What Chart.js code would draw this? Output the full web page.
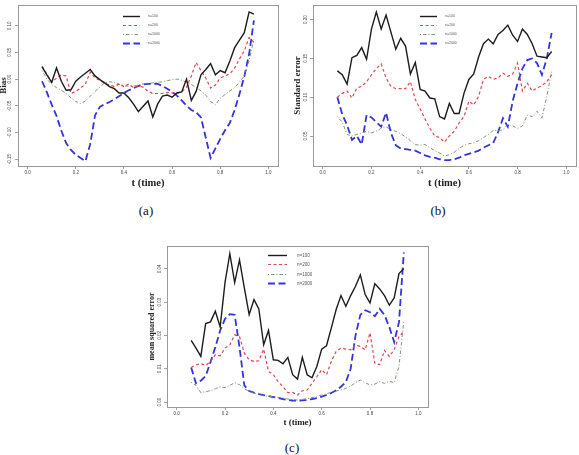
<!DOCTYPE html>
<html>
<head>
<meta charset="utf-8">
<script src="https://cdn.jsdelivr.net/npm/chart.js@4.4.0/dist/chart.umd.min.js"></script>
<style>
  body { margin: 0; background: #fff; width: 579px; height: 455px; position: relative; overflow: hidden; }
  canvas { position: absolute; }
  .cap { position: absolute; font-family: "Liberation Serif", serif; font-size: 13px; color: #111; transform: translateX(-50%); }
</style>
</head>
<body>
<canvas id="biasChart" width="290" height="200" style="left:0;top:0"></canvas>
<canvas id="seChart" width="289" height="200" style="left:290px;top:0"></canvas>
<canvas id="mseChart" width="300" height="215" style="left:140px;top:220px"></canvas>
<div class="cap" style="left:146px;top:203px">(a)</div>
<div class="cap" style="left:438px;top:203px">(b)</div>
<div class="cap" style="left:292px;top:440px">(c)</div>
<script>
// time grid
const t = [0.06, 0.08, 0.10, 0.12, 0.14, 0.16, 0.18, 0.20, 0.22, 0.24, 0.26, 0.28, 0.30, 0.32, 0.34,
    0.36, 0.38, 0.40, 0.42, 0.44, 0.46, 0.48, 0.50, 0.52, 0.54, 0.56, 0.58, 0.60, 0.62, 0.64,
    0.66, 0.68, 0.70, 0.72, 0.74, 0.76, 0.78, 0.80, 0.82, 0.84, 0.86, 0.88, 0.90, 0.92, 0.94];
const seriesNames = ['n=100', 'n=200', 'n=1000', 'n=2000'];
const xTicks = [0.0, 0.2, 0.4, 0.6, 0.8, 1.0];

// (a) Bias
const biasN100 = [0.023, 0.008, -0.006, 0.021, -0.004, -0.021, -0.020, -0.004, 0.004, 0.011,
    0.018, 0.006, -0.001, -0.007, -0.014, -0.018, -0.026, -0.026, -0.035, -0.047,
    -0.061, -0.051, -0.041, -0.071, -0.047, -0.032, -0.030, -0.034, -0.026, -0.024,
    0.000, -0.040, -0.023, 0.008, 0.018, 0.029, 0.008, 0.016, 0.012, 0.034,
    0.059, 0.073, 0.087, 0.126, 0.122];
const biasN200 = [0.024, 0.009, -0.006, 0.002, 0.008, 0.006, -0.027, -0.023, -0.017, -0.009,
    0.013, 0.002, -0.002, -0.008, -0.011, -0.014, -0.009, -0.014, -0.009, -0.016,
    -0.013, -0.015, -0.023, -0.027, -0.027, -0.027, -0.025, -0.026, -0.026, -0.024,
    -0.015, 0.006, 0.031, 0.016, 0.002, -0.017, -0.011, 0.002, 0.006, 0.010,
    0.021, 0.038, 0.053, 0.078, 0.069];
const biasN1000 = [0.016, 0.000, -0.010, -0.016, -0.021, -0.027, -0.035, -0.042, -0.046, -0.041,
    -0.032, -0.023, -0.015, -0.007, -0.005, -0.006, -0.010, -0.013, -0.013, -0.013,
    -0.011, -0.009, -0.008, -0.007, -0.006, -0.005, -0.003, -0.001, 0.000, -0.002,
    -0.006, -0.010, -0.016, -0.022, -0.030, -0.042, -0.048, -0.036, -0.029, -0.022,
    -0.016, -0.006, 0.006, 0.035, 0.075];
const biasN2000 = [-0.004, -0.025, -0.048, -0.069, -0.097, -0.120, -0.133, -0.142, -0.148, -0.154,
    -0.122, -0.068, -0.052, -0.047, -0.043, -0.038, -0.032, -0.026, -0.021, -0.017,
    -0.013, -0.010, -0.009, -0.009, -0.009, -0.013, -0.018, -0.024, -0.031, -0.040,
    -0.050, -0.058, -0.062, -0.072, -0.110, -0.148, -0.130, -0.112, -0.096, -0.082,
    -0.058, -0.028, 0.005, 0.047, 0.110];
const biasTicks = [-0.15, -0.10, -0.05, 0.00, 0.05, 0.10];

// (b) Standard error
const seN100 = [0.134, 0.129, 0.117, 0.151, 0.154, 0.164, 0.149, 0.188, 0.210, 0.188,
    0.206, 0.184, 0.162, 0.176, 0.166, 0.130, 0.145, 0.110, 0.108, 0.099,
    0.098, 0.075, 0.072, 0.092, 0.079, 0.079, 0.105, 0.123, 0.130, 0.152,
    0.169, 0.175, 0.169, 0.181, 0.186, 0.193, 0.180, 0.172, 0.188, 0.181,
    0.169, 0.153, 0.152, 0.151, 0.159];
const seN200 = [0.100, 0.105, 0.108, 0.099, 0.112, 0.114, 0.120, 0.129, 0.137, 0.143,
    0.125, 0.114, 0.111, 0.111, 0.111, 0.120, 0.097, 0.085, 0.072, 0.060,
    0.050, 0.048, 0.042, 0.050, 0.056, 0.067, 0.075, 0.095, 0.090, 0.101,
    0.123, 0.127, 0.123, 0.125, 0.131, 0.127, 0.130, 0.144, 0.108, 0.118,
    0.108, 0.112, 0.115, 0.120, 0.129];
const seN1000 = [0.075, 0.068, 0.052, 0.050, 0.052, 0.054, 0.056, 0.054, 0.056, 0.060,
    0.062, 0.058, 0.056, 0.053, 0.049, 0.044, 0.039, 0.038, 0.039, 0.035,
    0.031, 0.028, 0.024, 0.026, 0.029, 0.034, 0.038, 0.040, 0.041, 0.044,
    0.048, 0.052, 0.057, 0.057, 0.058, 0.065, 0.063, 0.060, 0.063, 0.077,
    0.075, 0.082, 0.073, 0.101, 0.133];
const seN2000 = [0.100, 0.078, 0.064, 0.045, 0.050, 0.039, 0.077, 0.074, 0.068, 0.062,
    0.080, 0.054, 0.038, 0.034, 0.033, 0.032, 0.031, 0.028, 0.025, 0.023,
    0.022, 0.020, 0.019, 0.019, 0.020, 0.022, 0.025, 0.027, 0.029, 0.031,
    0.035, 0.038, 0.041, 0.055, 0.073, 0.062, 0.095, 0.118, 0.137, 0.148,
    0.150, 0.144, 0.129, 0.150, 0.183];
const seTicks = [0.05, 0.10, 0.15, 0.20];

// (c) Mean squared error
const mseN100 = [0.0185, 0.0162, 0.0137, 0.0236, 0.0241, 0.0273, 0.0226, 0.0359, 0.0446, 0.0359,
    0.0427, 0.0343, 0.0263, 0.0308, 0.0280, 0.0172, 0.0215, 0.0127, 0.0125, 0.0115,
    0.0134, 0.0082, 0.0069, 0.0134, 0.0082, 0.0073, 0.0107, 0.0159, 0.0169, 0.0223,
    0.0278, 0.0320, 0.0288, 0.0320, 0.0348, 0.0382, 0.0323, 0.0298, 0.0356, 0.0340,
    0.0320, 0.0291, 0.0313, 0.0386, 0.0401];
const mseN200 = [0.0104, 0.0112, 0.0115, 0.0110, 0.0122, 0.0142, 0.0139, 0.0162, 0.0172, 0.0202,
    0.0197, 0.0147, 0.0127, 0.0122, 0.0124, 0.0159, 0.0092, 0.0082, 0.0061, 0.0046,
    0.0028, 0.0029, 0.0021, 0.0034, 0.0036, 0.0056, 0.0076, 0.0097, 0.0082, 0.0122,
    0.0152, 0.0162, 0.0159, 0.0157, 0.0172, 0.0167, 0.0157, 0.0208, 0.0117, 0.0112,
    0.0155, 0.0137, 0.0157, 0.0197, 0.0212];
const mseN1000 = [0.0059, 0.0050, 0.0028, 0.0031, 0.0034, 0.0040, 0.0046, 0.0043, 0.0050, 0.0058,
    0.0052, 0.0040, 0.0032, 0.0027, 0.0023, 0.0019, 0.0017, 0.0016, 0.0014, 0.0012,
    0.0009, 0.0007, 0.0006, 0.0008, 0.0010, 0.0013, 0.0017, 0.0021, 0.0025, 0.0029,
    0.0033, 0.0036, 0.0041, 0.0048, 0.0058, 0.0066, 0.0058, 0.0051, 0.0054, 0.0061,
    0.0056, 0.0062, 0.0058, 0.0107, 0.0245];
const mseN2000 = [0.0104, 0.0056, 0.0064, 0.0078, 0.0120, 0.0165, 0.0215, 0.0250, 0.0264, 0.0262,
    0.0165, 0.0050, 0.0033, 0.0028, 0.0024, 0.0021, 0.0018, 0.0015, 0.0012, 0.0009,
    0.0006, 0.0004, 0.0004, 0.0005, 0.0006, 0.0009, 0.0012, 0.0016, 0.0021, 0.0027,
    0.0035, 0.0046, 0.0060, 0.0100, 0.0200, 0.0262, 0.0276, 0.0270, 0.0258, 0.0280,
    0.0262, 0.0225, 0.0180, 0.0240, 0.0450];
const mseTicks = [0.00, 0.01, 0.02, 0.03, 0.04];

// line styles for n=100, 200, 1000, 2000
const lineStyles = [
    { color: '#1c1c1c', width: 1.4, dash: [] },
    { color: '#e0474f', width: 1.2, dash: [3, 2.5] },
    { color: '#6f8a62', width: 0.9, dash: [1, 2, 3.5, 2] },
    { color: '#3434dc', width: 1.8, dash: [7, 3.5] }
];

const serif = '"Liberation Serif", "Times New Roman", serif';
const sans = '"Liberation Sans", Arial, sans-serif';

// frame, rotated y tick labels and the inner legend
const panelDecor = {
    id: 'panelDecor',
    afterDraw(chart, args, o) {
        const { ctx, chartArea: a } = chart;
        const y = chart.scales.y;
        ctx.save();
        ctx.strokeStyle = '#999';
        ctx.lineWidth = 1;
        ctx.strokeRect(Math.round(a.left) + 0.5, Math.round(a.top) + 0.5,
            Math.round(a.right - a.left), Math.round(a.bottom - a.top));

        ctx.fillStyle = '#444';
        ctx.font = '4.5px ' + sans;
        ctx.textAlign = 'center';
        ctx.textBaseline = 'middle';
        y.ticks.forEach(tk => {
            ctx.save();
            ctx.translate(a.left - o.labelGap, y.getPixelForValue(tk.value));
            ctx.rotate(-Math.PI / 2);
            ctx.fillText(tk.value.toFixed(2), 0, 0);
            ctx.restore();
        });

        ctx.textAlign = 'left';
        ctx.font = o.fontSize + 'px ' + sans;
        chart.data.datasets.forEach((ds, i) => {
            const ly = Math.round(a.top + o.y0 + i * o.dy) + 0.5;
            ctx.strokeStyle = ds.borderColor;
            ctx.lineWidth = ds.borderWidth;
            ctx.setLineDash(ds.borderDash);
            ctx.beginPath();
            ctx.moveTo(a.left + o.x1, ly);
            ctx.lineTo(a.left + o.x2, ly);
            ctx.stroke();
            ctx.setLineDash([]);
            ctx.fillStyle = '#555';
            ctx.fillText(ds.label, a.left + o.tx, ly);
        });
        ctx.restore();
    }
};

function makePanel(id, values, yMin, yMax, yTicks, yTitle, g) {
    const datasets = values.map((vals, i) => ({
        label: seriesNames[i],
        data: vals.map((v, k) => ({ x: t[k], y: v })),
        borderColor: lineStyles[i].color,
        borderWidth: lineStyles[i].width,
        borderDash: lineStyles[i].dash,
        pointRadius: 0,
        tension: 0,
        fill: false
    }));
    const gridOpts = { display: true, drawOnChartArea: false, drawTicks: true, tickLength: 3, color: '#777', lineWidth: 0.7 };
    new Chart(document.getElementById(id), {
        type: 'line',
        data: { datasets },
        options: {
            responsive: false,
            animation: false,
            layout: { padding: { left: 0, right: g.padR, top: g.padT, bottom: 0 } },
            plugins: {
                legend: { display: false },
                tooltip: { enabled: false },
                panelDecor: g.legend
            },
            scales: {
                x: {
                    type: 'linear',
                    min: -0.04,
                    max: 1.04,
                    afterBuildTicks: s => { s.ticks = xTicks.map(v => ({ value: v })); },
                    afterFit: s => { s.height = g.xH; },
                    grid: gridOpts,
                    border: { display: false },
                    ticks: {
                        font: { size: 4.5, family: sans },
                        color: '#444',
                        padding: 1.5,
                        maxRotation: 0,
                        autoSkip: false,
                        callback: v => v.toFixed(1)
                    },
                    title: {
                        display: true,
                        text: 't (time)',
                        color: '#222',
                        font: { size: g.xTitleSize, family: serif, weight: 'bold' },
                        padding: { top: 0, bottom: g.xTitlePad }
                    }
                },
                y: {
                    type: 'linear',
                    min: yMin,
                    max: yMax,
                    afterBuildTicks: s => { s.ticks = yTicks.map(v => ({ value: v })); },
                    afterFit: s => { s.width = g.yW; },
                    grid: gridOpts,
                    border: { display: false },
                    ticks: { display: false },
                    title: {
                        display: true,
                        text: yTitle,
                        color: '#222',
                        font: { size: g.yTitleSize, family: serif, weight: 'bold', lineHeight: 0.8 },
                        padding: { top: g.yTitlePad, bottom: 0 }
                    }
                }
            }
        },
        plugins: [panelDecor]
    });
}

makePanel('biasChart', [biasN100, biasN200, biasN1000, biasN2000], -0.163, 0.139, biasTicks, 'Bias', {
    padR: 12, padT: 5, yW: 18, xH: 34, xTitleSize: 10.5, xTitlePad: 10.5, yTitleSize: 9, yTitlePad: 0,
    legend: { x1: 105, x2: 122, tx: 130, y0: 10.5, dy: 9, fontSize: 3.5, labelGap: 8 }
});
makePanel('seChart', [seN100, seN200, seN1000, seN2000], 0.0113, 0.219, seTicks, 'Standard error', {
    padR: 3, padT: 5, yW: 23, xH: 34, xTitleSize: 10.5, xTitlePad: 10.5, yTitleSize: 9, yTitlePad: 4.5,
    legend: { x1: 107, x2: 124, tx: 132, y0: 10.5, dy: 9, fontSize: 3.5, labelGap: 7 }
});
makePanel('mseChart', [mseN100, mseN200, mseN1000, mseN2000], -0.0015, 0.0469, mseTicks, 'mean squared error', {
    padR: 12, padT: 26, yW: 27, xH: 28, xTitleSize: 9, xTitlePad: 6.5, yTitleSize: 8, yTitlePad: 8.5,
    legend: { x1: 101, x2: 120, tx: 130, y0: 9, dy: 9.3, fontSize: 4.5, labelGap: 7 }
});
</script>
</body>
</html>
